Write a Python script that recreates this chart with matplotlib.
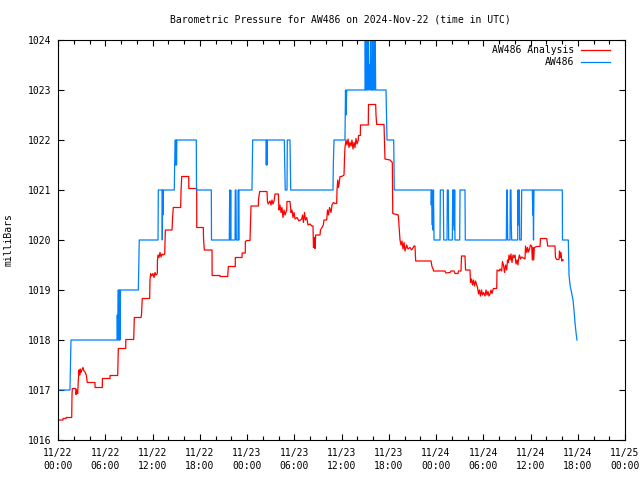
import matplotlib
matplotlib.use("Agg")
import matplotlib.pyplot as plt
import matplotlib.dates as mdates
from datetime import datetime, timedelta

# ---- data (hours since 2024-11-22 00:00 UTC, pressure in mb) ----
analysis_hours = [
    0.00, 0.63, 0.64, 1.02, 1.03, 1.74, 1.78, 1.82, 2.25, 2.29, 2.37, 2.50, 2.58, 2.67, 2.76, 2.83,
    2.92, 3.05, 3.17, 3.30, 3.43, 3.59, 3.72, 4.70, 4.71, 5.63, 5.64, 6.60, 6.61, 7.58, 7.62, 7.66,
    8.60, 8.61, 9.61, 9.65, 9.69, 10.54, 10.60, 10.70, 11.64, 11.68, 11.77, 11.90, 12.06, 12.19,
    12.32, 12.44, 12.61, 12.63, 12.70, 12.83, 12.95, 13.08, 13.21, 13.33, 13.55, 13.59, 13.63,
    14.48, 14.54, 14.64, 15.58, 15.62, 15.71, 16.60, 16.61, 17.61, 17.62, 18.45, 18.48, 18.58,
    19.56, 19.57, 20.57, 20.58, 21.55, 21.59, 21.63, 22.51, 22.52, 23.37, 23.38, 23.78, 23.79,
    23.96, 24.38, 24.51, 25.44, 25.46, 25.61, 26.54, 26.60, 26.70, 26.92, 27.05, 27.17, 27.30,
    27.43, 27.56, 27.98, 28.06, 28.19, 28.32, 28.44, 28.57, 28.70, 28.83, 29.04, 29.08, 29.46,
    29.59, 29.71, 29.84, 29.97, 30.10, 30.35, 30.60, 30.95, 31.05, 31.17, 31.30, 31.43, 31.58,
    31.75, 32.00, 32.22, 32.38, 32.44, 32.55, 32.63, 32.72, 33.27, 33.33, 33.52, 33.69, 33.78,
    34.12, 34.22, 34.35, 34.48, 34.67, 34.79, 34.98, 35.17, 35.39, 35.43, 35.52, 35.62, 35.72,
    35.81, 36.03, 36.32, 36.38, 36.44, 36.57, 36.70, 36.83, 36.95, 37.08, 37.21, 37.33, 37.46,
    37.59, 37.71, 37.84, 37.97, 38.13, 38.16, 38.39, 38.41, 39.40, 39.43, 40.34, 40.38, 40.47,
    41.40, 41.46, 41.52, 42.16, 42.45, 42.51, 43.21, 43.30, 43.43, 43.56, 43.68, 43.81, 43.94,
    44.06, 44.28, 44.44, 44.70, 44.91, 45.21, 45.33, 45.42, 47.37, 47.49, 47.66, 47.68, 49.14,
    49.27, 49.78, 49.90, 50.29, 50.41, 50.79, 50.86, 51.17, 51.24, 51.68, 51.75, 52.32, 52.38,
    52.51, 52.63, 52.76, 52.89, 53.02, 53.17, 53.27, 53.40, 53.52, 53.65, 53.78, 53.90, 54.03,
    54.22, 54.35, 54.48, 54.60, 54.73, 54.86, 54.98, 55.11, 55.28, 55.71, 55.75, 56.00, 56.13,
    56.34, 56.44, 56.57, 56.70, 56.83, 56.98, 57.08, 57.18, 57.27, 57.40, 57.52, 57.65, 57.78,
    57.90, 58.03, 58.16, 58.29, 58.41, 58.48, 58.60, 58.73, 58.88, 59.30, 59.37, 59.52, 59.62,
    59.75, 59.87, 60.00, 60.15, 60.23, 60.32, 60.41, 60.48, 60.79, 61.21, 61.27, 62.06, 62.13,
    62.18, 63.11, 63.17, 63.33, 63.62, 63.68, 63.77, 63.87, 63.97, 64.06, 64.17,
]
analysis_mb = [
    1016.40, 1016.40, 1016.43, 1016.43, 1016.45, 1016.45, 1016.91, 1017.03, 1017.03, 1016.91,
    1017.00, 1016.93, 1017.20, 1017.40, 1017.30, 1017.42, 1017.35, 1017.40, 1017.45, 1017.38,
    1017.36, 1017.30, 1017.15, 1017.15, 1017.05, 1017.05, 1017.23, 1017.23, 1017.29, 1017.29,
    1017.57, 1017.83, 1017.83, 1018.01, 1018.01, 1018.21, 1018.45, 1018.45, 1018.50, 1018.83,
    1018.83, 1019.20, 1019.33, 1019.28, 1019.33, 1019.25, 1019.35, 1019.30, 1019.33, 1019.60,
    1019.70, 1019.65, 1019.75, 1019.66, 1019.72, 1019.70, 1019.72, 1019.93, 1020.20, 1020.20,
    1020.42, 1020.65, 1020.65, 1020.97, 1021.27, 1021.27, 1021.03, 1021.03, 1020.25, 1020.25,
    1020.03, 1019.80, 1019.80, 1019.29, 1019.29, 1019.27, 1019.27, 1019.37, 1019.47, 1019.47,
    1019.65, 1019.65, 1019.74, 1019.74, 1019.97, 1019.99, 1019.99, 1020.68, 1020.68, 1020.81,
    1020.97, 1020.97, 1020.77, 1020.72, 1020.78, 1020.70, 1020.80, 1020.72, 1020.78, 1020.92,
    1020.92, 1020.60, 1020.70, 1020.55, 1020.65, 1020.45, 1020.60, 1020.50, 1020.60, 1020.77,
    1020.77, 1020.55, 1020.60, 1020.45, 1020.55, 1020.42, 1020.45, 1020.38, 1020.42, 1020.50,
    1020.35, 1020.55, 1020.40, 1020.45, 1020.30, 1020.32, 1020.28, 1020.28, 1019.85, 1020.05,
    1019.83, 1020.10, 1020.10, 1020.20, 1020.25, 1020.30, 1020.40, 1020.40, 1020.60, 1020.50,
    1020.65, 1020.55, 1020.70, 1020.75, 1020.73, 1020.73, 1021.00, 1021.20, 1021.05, 1021.15,
    1021.27, 1021.27, 1021.30, 1021.63, 1021.85, 1022.00, 1021.90, 1022.02, 1021.85, 1021.95,
    1021.88, 1022.00, 1021.82, 1021.95, 1021.85, 1022.03, 1021.92, 1022.00, 1022.09, 1022.09,
    1022.30, 1022.30, 1022.71, 1022.71, 1022.50, 1022.31, 1022.31, 1021.97, 1021.62, 1021.60,
    1021.55, 1020.53, 1020.50, 1020.30, 1020.00, 1019.90, 1019.98, 1019.82, 1019.95, 1019.78,
    1019.90, 1019.82, 1019.85, 1019.80, 1019.88, 1019.88, 1019.58, 1019.58, 1019.47, 1019.41,
    1019.38, 1019.38, 1019.34, 1019.35, 1019.38, 1019.38, 1019.33, 1019.33, 1019.38, 1019.38,
    1019.68, 1019.68, 1019.40, 1019.40, 1019.15, 1019.22, 1019.10, 1019.20, 1019.08, 1019.18,
    1019.10, 1019.05, 1018.92, 1019.00, 1018.88, 1019.00, 1018.90, 1018.95, 1018.88, 1019.00,
    1018.90, 1018.97, 1018.88, 1018.92, 1019.00, 1018.93, 1019.03, 1019.03, 1019.40, 1019.38,
    1019.42, 1019.38, 1019.57, 1019.50, 1019.35, 1019.50, 1019.40, 1019.60, 1019.55, 1019.70,
    1019.60, 1019.72, 1019.55, 1019.70, 1019.65, 1019.70, 1019.52, 1019.60, 1019.50, 1019.62,
    1019.70, 1019.62, 1019.66, 1019.62, 1019.88, 1019.75, 1019.85, 1019.76, 1019.82, 1019.90,
    1019.88, 1019.60, 1019.85, 1019.60, 1019.85, 1019.87, 1019.87, 1020.03, 1020.03, 1019.95,
    1019.88, 1019.88, 1019.65, 1019.61, 1019.61, 1019.78, 1019.65, 1019.75, 1019.58, 1019.60,
    1019.60,
]

station_hours = [
    0.00, 1.52, 1.65, 7.49, 7.53, 7.58, 7.66, 7.71, 7.75, 7.78, 7.83, 7.87, 7.94, 10.20, 10.32,
    12.70, 12.74, 13.21, 13.24, 13.29, 13.33, 13.37, 14.77, 14.81, 14.90, 14.95, 15.00, 15.05,
    15.09, 17.56, 17.59, 19.47, 19.49, 21.75, 21.80, 21.88, 21.93, 21.97, 22.48, 22.51, 22.60,
    22.64, 22.86, 22.90, 22.95, 22.98, 24.63, 24.72, 26.41, 26.45, 26.50, 26.54, 26.58, 28.74,
    28.79, 28.86, 29.08, 29.12, 29.46, 29.55, 34.92, 34.96, 35.05, 36.44, 36.51, 36.57, 36.66,
    38.98, 39.02, 39.07, 39.14, 39.19, 39.26, 39.31, 39.40, 39.45, 39.56, 39.62, 39.68, 39.75,
    39.87, 39.91, 39.96, 40.04, 40.09, 40.17, 40.22, 40.29, 40.34, 41.65, 41.71, 41.78, 42.63,
    42.70, 47.37, 47.40, 47.45, 47.53, 47.58, 47.62, 47.68, 47.75, 48.51, 48.55, 48.93, 48.98,
    49.40, 49.44, 49.56, 49.61, 50.07, 50.12, 50.16, 50.20, 50.29, 50.32, 50.37, 50.41, 51.01,
    51.05, 51.68, 51.72, 56.93, 56.98, 57.05, 57.10, 57.40, 57.43, 57.52, 57.56, 57.61, 58.37,
    58.41, 58.45, 58.50, 58.58, 58.63, 58.83, 58.88, 60.23, 60.29, 60.32, 60.38, 60.44, 64.04,
    64.06, 64.80, 64.89, 65.02, 65.21, 65.40, 65.52, 65.65, 65.78, 65.90,
]
station_mb = [
    1017, 1017, 1018, 1018, 1018.5, 1018, 1019, 1018, 1019, 1018, 1019, 1018, 1019, 1019, 1020,
    1020, 1021, 1021, 1020, 1021, 1020.5, 1021, 1021, 1021.5, 1022, 1021.5, 1022, 1021.5,
    1022, 1022, 1021, 1021, 1020, 1020, 1021, 1020, 1021, 1020, 1020, 1021, 1021,
    1020, 1020, 1021, 1020, 1021, 1021, 1022, 1022, 1021.5, 1022, 1021.5, 1022, 1022,
    1021.5, 1021, 1021, 1022, 1022, 1021, 1021, 1021.5, 1022, 1022, 1023, 1022.5, 1023,
    1023, 1024, 1023, 1024, 1023, 1024, 1023, 1024, 1023, 1023.5, 1023, 1024, 1023,
    1023, 1024, 1023, 1024, 1023, 1024, 1023, 1024, 1023, 1023, 1022.5, 1022, 1022,
    1021, 1021, 1020.7, 1021, 1020.3, 1021, 1020.2, 1021, 1020, 1020, 1021, 1021, 1020,
    1020, 1021, 1021, 1020, 1020, 1021, 1020.3, 1021, 1021, 1020.2, 1021, 1020, 1020,
    1021, 1021, 1020, 1020, 1021, 1021, 1020, 1020, 1021, 1021, 1020.3, 1020, 1020,
    1021, 1020.3, 1021, 1021, 1020, 1020, 1021, 1021, 1020.5, 1021, 1020, 1021, 1021,
    1020, 1020, 1019.3, 1019.1, 1018.95, 1018.8, 1018.6, 1018.35, 1018.15, 1018.0,
]

series_labels = ["AW486 Analysis", "AW486"]
series_colors = ["#ff0000", "#0080ff"]
title = "Barometric Pressure for AW486 on 2024-Nov-22 (time in UTC)"
y_label = "milliBars"

start = datetime(2024, 11, 22)
t_analysis = [start + timedelta(hours=h) for h in analysis_hours]
t_station = [start + timedelta(hours=h) for h in station_hours]

plt.rcParams['font.family'] = ['DejaVu Sans Mono']
FS = 7

fig = plt.figure(figsize=(6.4, 4.8), dpi=100)
ax = fig.add_axes([58 / 640, 40 / 480, (625 - 58) / 640, 400 / 480])

ax.plot(t_analysis, analysis_mb, color=series_colors[0], lw=0.9, label=series_labels[0])
ax.plot(t_station, station_mb, color=series_colors[1], lw=0.9, label=series_labels[1])

ax.set_xlim(start, start + timedelta(days=3))
ax.set_ylim(1016, 1024)
ax.set_yticks(range(1016, 1025))
ax.xaxis.set_major_locator(mdates.HourLocator(byhour=range(0, 24, 6)))
ax.xaxis.set_minor_locator(mdates.HourLocator(byhour=range(0, 24, 2)))
ax.xaxis.set_major_formatter(mdates.DateFormatter('%m/%d\n%H:%M'))

ax.tick_params(which='both', direction='in', top=True, right=True, labelsize=FS, width=0.8)
ax.tick_params(which='major', length=4.5)
ax.tick_params(which='minor', length=3)
ax.tick_params(axis='x', which='major', pad=6)
ax.tick_params(axis='y', which='major', pad=5)
for lab in ax.get_xticklabels():
    lab.set_linespacing(1.3)
for sp in ax.spines.values():
    sp.set_linewidth(0.8)

ax.set_ylabel(y_label, fontsize=FS)
ax.yaxis.set_label_coords(-0.078, 0.5)

fig.text(340 / 640, 1 - 19 / 480, title, ha='center', va='center', fontsize=FS)

leg = ax.legend(loc='upper right', bbox_to_anchor=(1 - 15 / 567, 1 - 5 / 400),
                markerfirst=False, frameon=False, fontsize=FS, borderpad=0,
                borderaxespad=0, handlelength=3.0, handletextpad=0.7, labelspacing=0.25)

fig.savefig("out.png", dpi=100)
